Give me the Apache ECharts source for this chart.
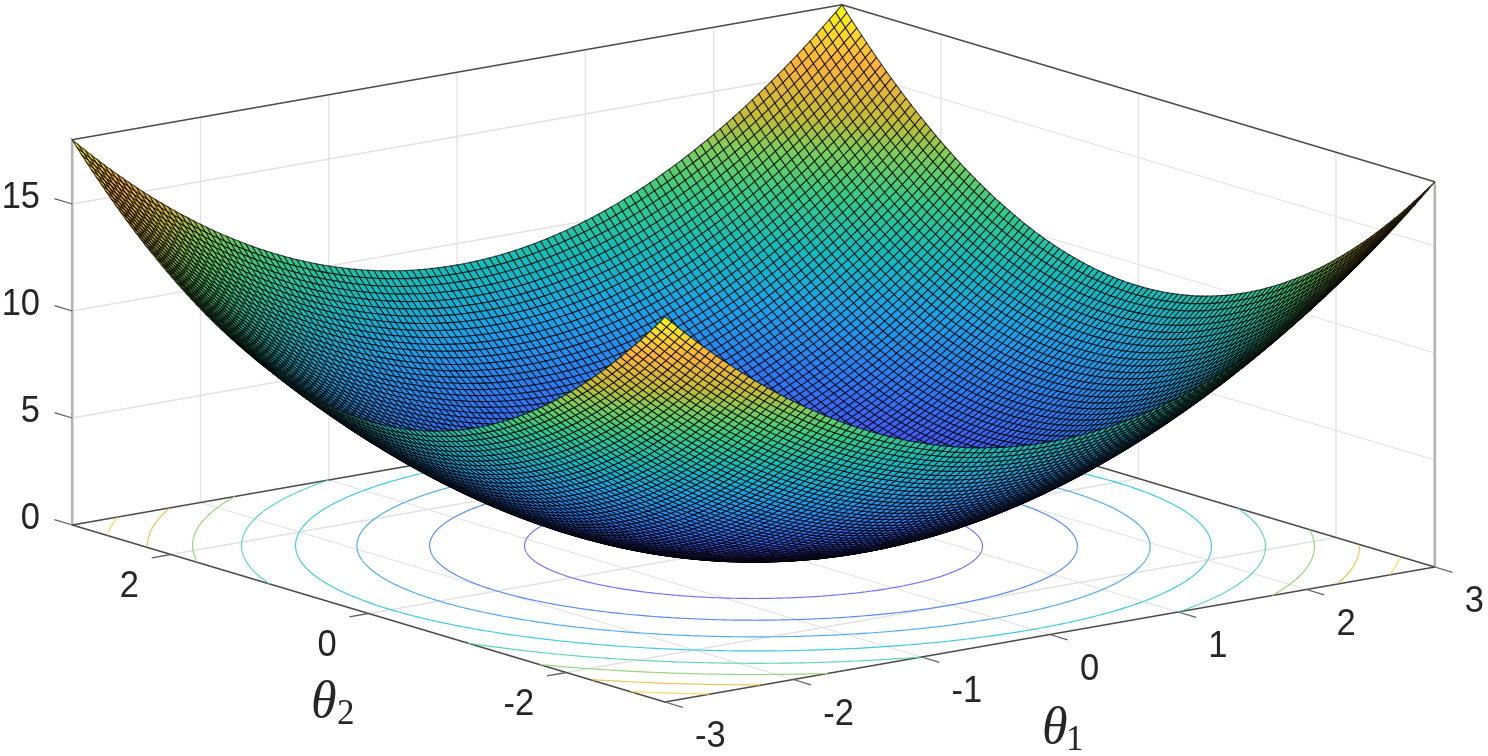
<!DOCTYPE html>
<html><head><meta charset="utf-8">
<style>html,body{margin:0;padding:0;background:#fff}#c{width:1488px;height:756px;filter:blur(.6px)}</style>
<script src="https://cdn.jsdelivr.net/npm/echarts@6/dist/echarts.min.js"></script>
</head><body><div id="c"></div>
<script>
// Mesh positions (one side of the symmetric grid) and the bowl height read at each of them
const thetaHalf=[3,2.95,2.9,2.85,2.8,2.75,2.7,2.65,2.6,2.55,2.5,2.45,2.4,2.35,2.3,2.25,2.2,2.15,2.1,2.05,2,1.95,1.9,1.85,1.8,1.75,1.7,1.65,1.6,1.55,1.5,1.45,1.4,1.35,1.3,1.25,1.2,1.15,1.1,1.05,1,.95,.9,.85,.8,.75,.7,.65,.6,.55,.5,.45,.4,.35,.3,.25,.2,.15,.1,.05,0];
const bowlHalf=[9,8.7,8.41,8.12,7.84,7.56,7.29,7.02,6.76,6.5,6.25,6,5.76,5.52,5.29,5.06,4.84,4.62,4.41,4.2,4,3.8,3.61,3.42,3.24,3.06,2.89,2.72,2.56,2.4,2.25,2.1,1.96,1.82,1.69,1.56,1.44,1.32,1.21,1.1,1,.9,.81,.72,.64,.56,.49,.42,.36,.3,.25,.2,.16,.12,.09,.06,.04,.02,.01,0,0];
const contourLevels=[2,4,6,8,10,12,14,16];
const contourRadii=[1.414,2,2.449,2.828,3.162,3.464,3.742,4];
const contourColours=['#6f73fb','#5b88f8','#4fabf2','#3ccbe2','#5cd6b8','#9ad27e','#ecc450','#fbd95c'];
const theta1Ticks=[-3,-2,-1,0,1,2,3];
const theta2Ticks=[-2,0,2];
const zTicks=[0,5,10,15];
const gridTheta1=[-2,-1,0,1,2];
const gridTheta2=[-2,0,2];
const gridZ=[5,10,15];
const axisLabels=[{name:'θ',sub:'1',x:1042,y:729,dx:24},{name:'θ',sub:'2',x:311,y:703,dx:26}];
const colourStops=[0,.125,.25,.375,.48,.6,.69,.76,.875,1];
const colourValues=['#3E26A8','#4752F4','#2A7CF4','#1AA4EA','#10BCC0','#35CB88','#7ECC5C','#C4BC32','#FDB33C','#F9FB15'];
const zMax=18, lim=3;

const view={cx:753.5,cy:546,x1:128.3,x2:-98.8,y1:-22.5,y2:-29.5,yz:-21.4};
const px=(a,b)=>view.cx+view.x1*a+view.x2*b;
const py=(a,b,z)=>view.cy+view.y1*a+view.y2*b+view.yz*z;

const thetas=thetaHalf.map(v=>-v).concat(thetaHalf.slice(0,-1).reverse());
const heights=bowlHalf.concat(bowlHalf.slice(0,-1).reverse());
const n=thetas.length;

function hex(c){return [parseInt(c.slice(1,3),16),parseInt(c.slice(3,5),16),parseInt(c.slice(5,7),16)];}
const stops=colourValues.map(hex);
function colour(z){
  const t=Math.max(0,Math.min(1,z/zMax));
  let k=0; while(k<colourStops.length-2&&t>colourStops[k+1])k++;
  const f=(t-colourStops[k])/(colourStops[k+1]-colourStops[k]);
  const c=stops[k].map((v,i)=>Math.round(v+(stops[k+1][i]-v)*f));
  return 'rgb('+c.join(',')+')';
}

// ---- frame lines: [a1,b1,z1,a2,b2,z2,style]
const styles={
  grid:{stroke:'#e2e2e2',lineWidth:1.3},
  post:{stroke:'#b4b4b4',lineWidth:2.6},
  edge:{stroke:'#4a4a4a',lineWidth:1.5},
  tick:{stroke:'#606060',lineWidth:1.3}
};
const frame=[];
gridTheta1.forEach(a=>{frame.push([a,lim,0,a,lim,zMax,'grid'],[a,-lim,0,a,lim,0,'grid']);});
gridTheta2.forEach(b=>{frame.push([lim,b,0,lim,b,zMax,'grid'],[-lim,b,0,lim,b,0,'grid']);});
gridZ.forEach(z=>{frame.push([-lim,lim,z,lim,lim,z,'grid'],[lim,lim,z,lim,-lim,z,'grid']);});
frame.push([-lim,lim,0,-lim,lim,zMax,'post'],[lim,-lim,0,lim,-lim,zMax,'post']);
frame.push([-lim,lim,zMax,lim,lim,zMax,'edge'],[lim,lim,zMax,lim,-lim,zMax,'edge']);
frame.push([-lim,lim,0,-lim,-lim,0,'edge'],[-lim,-lim,0,lim,-lim,0,'edge'],[-lim,lim,0,lim,lim,0,'edge'],[lim,lim,0,lim,-lim,0,'edge']);
theta1Ticks.forEach(a=>frame.push([a,-lim,0,a,-lim-.18,0,'tick']));
theta2Ticks.forEach(b=>frame.push([-lim,b,0,-lim-.15,b,0,'tick']));
zTicks.forEach(z=>frame.push([-lim,lim,z,-lim,lim+.18,z,'tick']));

// ---- floor contours
const contourData=contourLevels.map((l,i)=>[l,contourRadii[i],contourColours[i]]);

// ---- surface cells, far to near
const cells=[];
for(let i=n-2;i>=0;i--)for(let j=n-2;j>=0;j--)cells.push([i,j]);

// ---- text
const labelData=[];
theta1Ticks.forEach(a=>labelData.push([px(a,-lim)+30,py(a,-lim,0)+35,String(a),'left']));
theta2Ticks.forEach(b=>labelData.push([px(-lim,b)-32,py(-lim,b,0)+32,String(b),'right']));
zTicks.forEach(z=>labelData.push([40,py(-lim,lim,z)-6,String(z),'right']));

const chart=echarts.init(document.getElementById('c'),null,{renderer:'canvas',width:1488,height:756});
chart.setOption({
  animation:false,backgroundColor:'#fff',
  grid:{left:0,right:0,top:0,bottom:0},
  xAxis:{type:'value',min:0,max:1488,show:false},
  yAxis:{type:'value',min:0,max:756,inverse:true,show:false},
  tooltip:{show:false},
  series:[
    {type:'custom',name:'frame',coordinateSystem:'cartesian2d',silent:true,z:1,progressive:0,data:frame,encode:{x:[],y:[]},
     renderItem(p,api){
       const d=frame[p.dataIndex];
       const s=api.coord([px(d[0],d[1]),py(d[0],d[1],d[2])]),e=api.coord([px(d[3],d[4]),py(d[3],d[4],d[5])]);
       return {type:'line',shape:{x1:s[0],y1:s[1],x2:e[0],y2:e[1]},style:Object.assign({fill:null},styles[d[6]])};
     }},
    {type:'custom',name:'contours',coordinateSystem:'cartesian2d',silent:true,z:2,progressive:0,data:contourData,encode:{x:[],y:[]},
     renderItem(p,api){
       const [l,r,col]=contourData[p.dataIndex],kids=[];
       let run=[];
       for(let k=0;k<=720;k++){
         const t=k/720*2*Math.PI,a=r*Math.cos(t),b=r*Math.sin(t);
         if(Math.abs(a)<=lim&&Math.abs(b)<=lim){run.push(api.coord([px(a,b),py(a,b,0)]));}
         else{if(run.length>1)kids.push(run);run=[];}
       }
       if(run.length>1)kids.push(run);
       return {type:'group',children:kids.map(pts=>({type:'polyline',shape:{points:pts},style:{fill:null,stroke:col,lineWidth:1.15}}))};
     }},
    {type:'custom',name:'surface',coordinateSystem:'cartesian2d',silent:true,z:3,progressive:0,data:cells,encode:{x:[],y:[]},
     renderItem(p,api){
       const [i,j]=cells[p.dataIndex];
       const node=(u,v)=>{const a=thetas[u],b=thetas[v];return api.coord([px(a,b),py(a,b,heights[u]+heights[v])]);};
       const z=(heights[i]+heights[j]+heights[i+1]+heights[j+1])/2;
       return {type:'polygon',shape:{points:[node(i,j),node(i+1,j),node(i+1,j+1),node(i,j+1)]},
         style:{fill:colour(z),stroke:'rgba(0,0,0,.72)',lineWidth:1.1}};
     }},
    {type:'custom',name:'tickLabels',coordinateSystem:'cartesian2d',silent:true,z:4,data:labelData,encode:{x:[],y:[]},
     renderItem(p,api){
       const d=labelData[p.dataIndex],c=api.coord([d[0],d[1]]);
       return {type:'text',x:c[0],y:c[1],scaleY:1.08,style:{text:d[2],align:d[3],verticalAlign:'middle',fontFamily:'Liberation Sans',fontSize:34.5,fill:'#262626'}};
     }},
    {type:'custom',name:'axisNames',coordinateSystem:'cartesian2d',silent:true,z:4,data:axisLabels.map(a=>[a.x,a.y]),encode:{x:[],y:[]},
     renderItem(p,api){
       const d=axisLabels[p.dataIndex],c=api.coord([d.x,d.y]);
       return {type:'group',children:[
         {type:'text',x:c[0],y:c[1],style:{text:d.name,align:'left',verticalAlign:'middle',fontFamily:'Liberation Serif',fontStyle:'italic',fontSize:52,fill:'#262626'}},
         {type:'text',x:c[0]+d.dx,y:c[1]+12,style:{text:d.sub,align:'left',verticalAlign:'middle',fontFamily:'Liberation Serif',fontSize:35,fill:'#262626'}}
       ]};
     }}
  ]
});
</script></body></html>
